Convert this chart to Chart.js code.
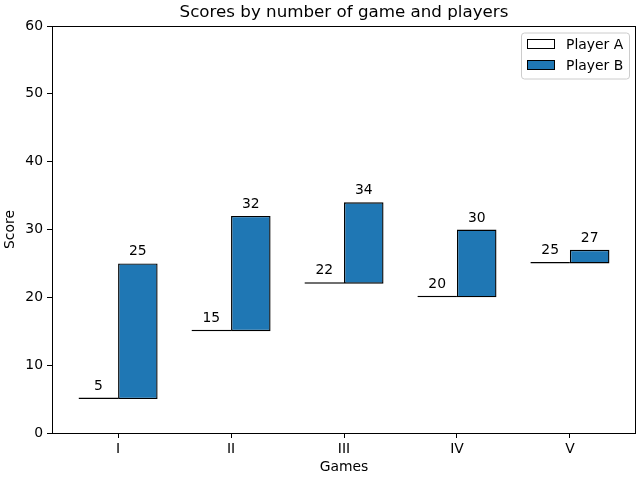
<!DOCTYPE html>
<html>
<head>
<meta charset="utf-8">
<script src="https://cdn.jsdelivr.net/npm/chart.js@4.4.1/dist/chart.umd.min.js"></script>
<style>
  body { margin: 0; background: #fff; }
  canvas { display: block; }
</style>
</head>
<body>
<canvas id="chart" width="640" height="480"></canvas>
<script>
// ===== data =====
const games = ['I', 'II', 'III', 'IV', 'V'];
const playerA = [5, 15, 22, 20, 25];
const playerB = [25, 32, 34, 30, 27];
const yTicks = [0, 10, 20, 30, 40, 50, 60];

const FONT = 'DejaVu Sans';
Chart.defaults.font.family = FONT;
Chart.defaults.font.size = 13.9;
Chart.defaults.color = '#000';

// frame, bar labels, title and legend drawn like matplotlib
const mplBits = {
    id: 'mplBits',
    afterDatasetsDraw(chart) {
        const ctx = chart.ctx;
        ctx.save();
        ctx.font = `13.9px ${FONT}`;
        ctx.fillStyle = '#000';
        ctx.textAlign = 'center';
        ctx.textBaseline = 'alphabetic';
        [playerA, playerB].forEach((vals, d) => {
            chart.getDatasetMeta(d).data.forEach((bar, i) => {
                ctx.fillText(String(vals[i]), bar.x, bar.y - 8);
            });
        });
        ctx.restore();
    },
    afterDraw(chart) {
        const { ctx, chartArea: a } = chart;
        ctx.save();
        // frame
        ctx.strokeStyle = '#000';
        ctx.lineWidth = 1;
        ctx.strokeRect(Math.round(a.left) + 0.5, Math.round(a.top) + 0.5, Math.round(a.right - a.left) - 1, Math.round(a.bottom - a.top));
        // title
        ctx.font = `16.7px ${FONT}`;
        ctx.fillStyle = '#000';
        ctx.textAlign = 'center';
        ctx.textBaseline = 'middle';
        ctx.fillText('Scores by number of game and players', (a.left + a.right) / 2, 13);
        // legend
        const lx = a.right - 115, ly = a.top + 6.5, lw = 108, lh = 46;
        ctx.beginPath();
        ctx.roundRect(lx + 0.5, ly + 0.5, lw, lh, 3);
        ctx.fillStyle = 'rgba(255,255,255,0.8)';
        ctx.fill();
        ctx.strokeStyle = '#cccccc';
        ctx.stroke();
        const items = [['Player A', '#ffffff'], ['Player B', '#1f77b4']];
        ctx.font = `13.9px ${FONT}`;
        ctx.textAlign = 'left';
        items.forEach(([name, col], k) => {
            const cy = ly + 11.5 + k * 21;
            ctx.fillStyle = col;
            ctx.fillRect(lx + 6, cy - 5, 28, 10);
            ctx.strokeStyle = '#000';
            ctx.strokeRect(lx + 6.5, cy - 4.5, 27, 9);
            ctx.fillStyle = '#000';
            ctx.fillText(name, lx + 45, cy + 1);
        });
        ctx.restore();
    }
};

new Chart(document.getElementById('chart'), {
    type: 'bar',
    data: {
        datasets: [
            {
                label: 'Player A',
                data: games.map((g, i) => ({ x: i, y: [playerA[i], playerA[i]] })),
                backgroundColor: '#ffffff', borderColor: '#000', borderWidth: 1,
                borderSkipped: false, minBarLength: 1.5
            },
            {
                label: 'Player B',
                data: games.map((g, i) => ({ x: i, y: [playerA[i], playerB[i]] })),
                backgroundColor: '#1f77b4', borderColor: '#000', borderWidth: 1.4,
                borderSkipped: false
            }
        ]
    },
    options: {
        responsive: false,
        animation: false,
        categoryPercentage: 0.7,
        barPercentage: 1,
        layout: { padding: { top: 26, right: 4, left: 0, bottom: 0 } },
        plugins: { legend: { display: false }, title: { display: false }, tooltip: { enabled: false } },
        scales: {
            x: {
                type: 'linear', min: -0.585, max: 4.585, offset: false,
                grid: { offset: false, drawOnChartArea: false, drawTicks: true, tickLength: 5, color: '#000' },
                border: { display: false },
                afterBuildTicks: s => { s.ticks = games.map((g, i) => ({ value: i })); },
                afterFit: s => { s.height = 47; },
                ticks: { autoSkip: false, maxRotation: 0, padding: 3, callback: v => games[v] },
                title: { display: true, text: 'Games', padding: { top: 0, bottom: 4 } }
            },
            y: {
                min: 0, max: 60,
                grid: { drawOnChartArea: false, drawTicks: true, tickLength: 5, color: '#000' },
                border: { display: false },
                afterBuildTicks: s => { s.ticks = yTicks.map(v => ({ value: v })); },
                afterFit: s => { s.width = 52; },
                ticks: { padding: 4 },
                title: { display: true, text: 'Score', padding: { top: 2, bottom: 0 } }
            }
        }
    },
    plugins: [mplBits]
});
</script>
</body>
</html>
